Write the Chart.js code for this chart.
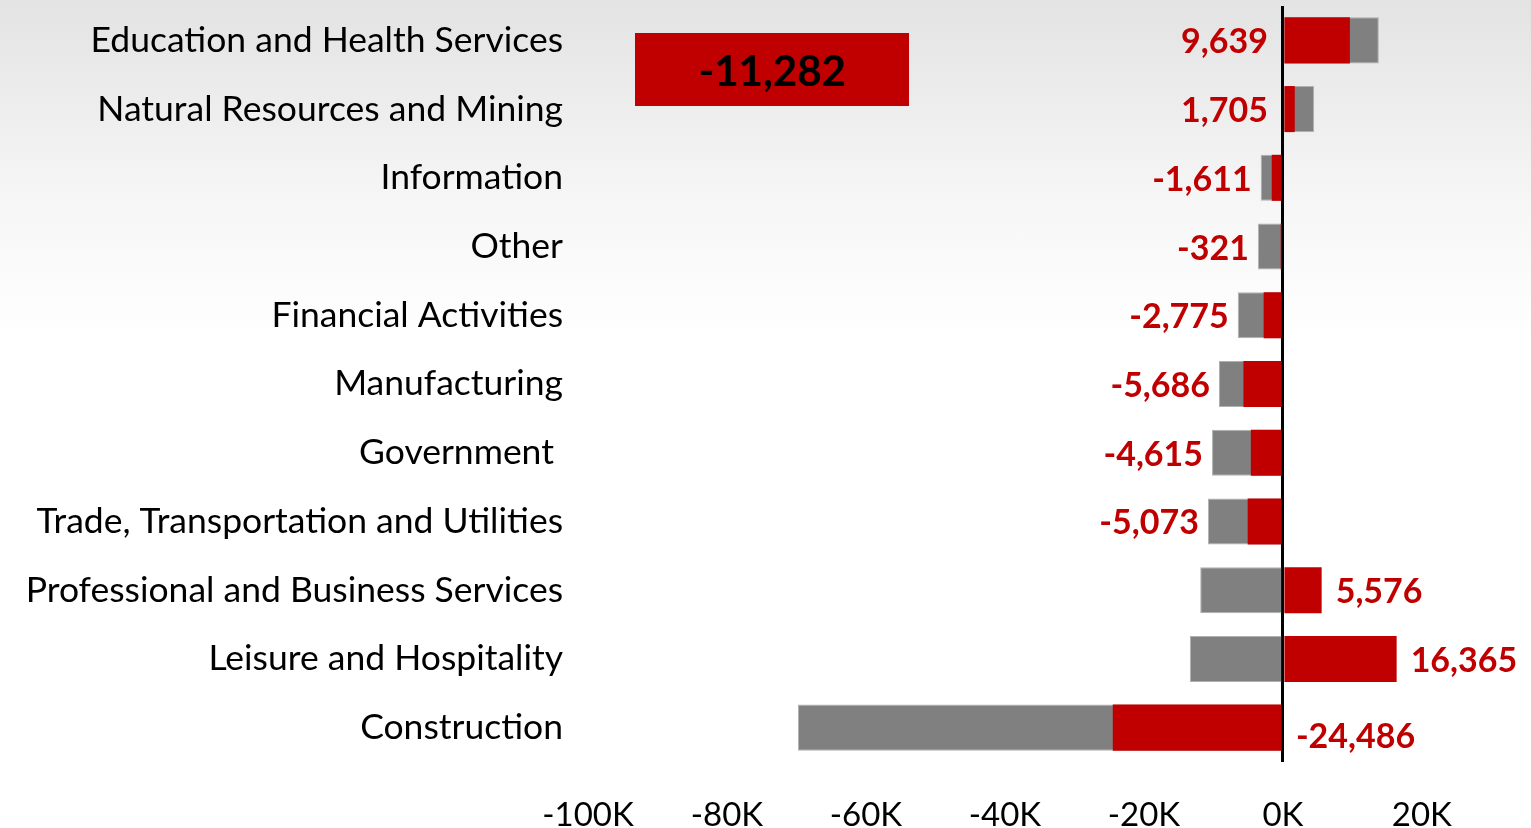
<!DOCTYPE html>
<html>
<head>
<meta charset="utf-8">
<script src="https://cdn.jsdelivr.net/npm/chart.js@4/dist/chart.umd.min.js"></script>
<style>
    html, body { margin: 0; padding: 0; }
    body {
        width: 1531px; height: 828px; position: relative; overflow: hidden;
        background: linear-gradient(to bottom, #e3e3e3 0px, #f6f6f6 200px, #ffffff 340px, #ffffff 100%);
    }
    #grafico { position: absolute; left: 0; top: 0; }
    #caixaTotal {
        position: absolute; left: 635px; top: 33px; width: 274px; height: 73px;
        background: #C00000; color: #000; font: bold 42px Lato, sans-serif;
        display: flex; align-items: center; justify-content: center;
    }
</style>
</head>
<body>
<canvas id="grafico" width="1531" height="828"></canvas>
<div id="caixaTotal"></div>

<script>
// --- DADOS ---
const setores = [
    "Education and Health Services",
    "Natural Resources and Mining",
    "Information",
    "Other",
    "Financial Activities",
    "Manufacturing",
    "Government ",
    "Trade, Transportation and Utilities",
    "Professional and Business Services",
    "Leisure and Hospitality",
    "Construction"
];
// serie vermelha (variacao) e serie cinza (referencia, desenhada atras)
const variacao = [9639, 1705, -1611, -321, -2775, -5686, -4615, -5073, 5576, 16365, -24486];
const referencia = [13800, 4500, -3200, -3600, -6500, -9200, -10200, -10800, -11900, -13400, -69800];
const totalGeral = -11282;
const ticksEixo = [-100000, -80000, -60000, -40000, -20000, 0, 20000];

const VERMELHO = "#C00000";
const CINZA = "#808080";
const fmt = v => v.toLocaleString("en-US");

document.getElementById("caixaTotal").textContent = fmt(totalGeral);

// rotulos de valor em vermelho
const rotulosValor = {
    id: "rotulosValor",
    afterDatasetsDraw(chart) {
        const { ctx, scales: { x, y } } = chart;
        ctx.save();
        ctx.font = "bold 34px Lato";
        ctx.fillStyle = VERMELHO;
        ctx.textBaseline = "middle";
        const zero = x.getPixelForValue(0);
        variacao.forEach((v, i) => {
            const g = referencia[i];
            let yy = y.getPixelForValue(i) + 2;
            let xx;
            if (v > 0 && g > 0) {
                ctx.textAlign = "right"; xx = zero - 15;
            } else if (v > 0) {
                ctx.textAlign = "left"; xx = x.getPixelForValue(v) + 14;
            } else if (g < v && g > -50000) {
                ctx.textAlign = "right"; xx = x.getPixelForValue(g) - 9;
            } else {
                ctx.textAlign = "left"; xx = zero + 13; yy += 7;
            }
            ctx.fillText(fmt(v), xx, yy);
        });
        ctx.restore();
    }
};

new Chart(document.getElementById("grafico"), {
    type: "bar",
    data: {
        labels: setores,
        datasets: [
            { label: "Variação", data: variacao, backgroundColor: VERMELHO, grouped: false,
              barPercentage: 0.67, categoryPercentage: 1 },
            { label: "Referência", data: referencia, backgroundColor: CINZA, borderColor: "#b0b0b0",
              borderWidth: 1, grouped: false, barPercentage: 0.67, categoryPercentage: 1 }
        ]
    },
    options: {
        indexAxis: "y",
        responsive: false,
        animation: false,
        layout: { padding: { top: 6, right: 0, bottom: 0, left: 0 } },
        plugins: { legend: { display: false }, tooltip: { enabled: false } },
        scales: {
            x: {
                min: -100000,
                max: 35700,
                border: { display: false },
                grid: {
                    drawTicks: false,
                    color: c => (c.tick && c.tick.value === 0) ? "#000" : "rgba(0,0,0,0)",
                    lineWidth: 3
                },
                ticks: {
                    color: "#000",
                    font: { family: "Lato", size: 33 },
                    padding: 34,
                    maxRotation: 0,
                    callback: v => (v / 1000) + "K"
                },
                afterBuildTicks: s => { s.ticks = ticksEixo.map(v => ({ value: v })); },
                afterFit: s => { s.height = 66; }
            },
            y: {
                border: { display: false },
                grid: { display: false },
                ticks: {
                    color: "#000",
                    font: { family: "Lato", size: 35.5 },
                    padding: 17
                },
                afterFit: s => { s.width = 588; s.paddingTop = 0; s.paddingBottom = 0; }
            }
        }
    },
    plugins: [rotulosValor]
});
</script>
</body>
</html>
